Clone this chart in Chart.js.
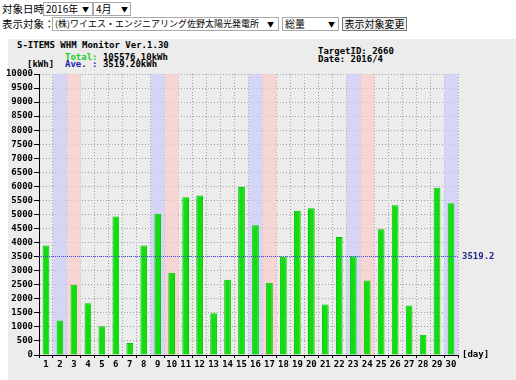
<!DOCTYPE html>
<html>
<head>
<meta charset="utf-8">
<script src="https://cdn.jsdelivr.net/npm/chart.js@4"></script>
<style>
  body { margin: 0; width: 516px; height: 380px; background: #fff; overflow: hidden; position: relative;
         font-family: "Noto Sans CJK JP", sans-serif; font-size: 10.5px; }
  .lbl { position: absolute; line-height: 13px; white-space: nowrap; }
  select, button { position: absolute; font-family: "Noto Sans CJK JP", sans-serif; font-size: 10px;
         height: 14px; padding: 0 0 0 2px; border: 1px solid #a9a9a9; background: #fff; box-sizing: border-box;
         line-height: 12px; color: #000; appearance: none; -webkit-appearance: none; border-radius: 0; }
  button { background: #efefef; border: 1px solid #777; padding: 0 1px; white-space: nowrap; }
  .arrow { position: absolute; font-size: 7px; line-height: 14px; pointer-events: none; }
  #panel { position: absolute; left: 8px; top: 39px; right: 0; bottom: 0; background: #ececec; }
  .mono { position: absolute; font: bold 9px "DejaVu Sans Mono", monospace; line-height: 9px; white-space: pre; color: #000; }
  #chart-wrap { position: absolute; left: 0; top: 39px; width: 516px; height: 341px; }
</style>
</head>
<body>
<div class="lbl" style="left:2px;top:2px">対象日時</div>
<select style="left:43px;top:2px;width:50px"><option>2016年</option></select>
<span class="arrow" style="left:82px;top:2px">▼</span>
<select style="left:93px;top:2px;width:38px"><option>4月</option></select>
<span class="arrow" style="left:121px;top:2px">▼</span>
<div class="lbl" style="left:2px;top:17px">表示対象：</div>
<select style="left:52px;top:17px;width:227px;font-size:9px"><option>(株)ワイエス・エンジニアリング佐野太陽光発電所</option></select>
<span class="arrow" style="left:267px;top:17px">▼</span>
<select style="left:282px;top:17px;width:57px"><option>総量</option></select>
<span class="arrow" style="left:328px;top:17px">▼</span>
<button style="left:342px;top:17px;width:65px">表示対象変更</button>

<div id="panel"></div>
<div class="mono" style="left:17px;top:41px">S-ITEMS WHM Monitor Ver.1.30</div>
<div class="mono" style="left:65px;top:53px"><span style="color:#22cc22">Total:</span> 105576.10kWh</div>
<div class="mono" style="left:27px;top:60px">[kWh]</div>
<div class="mono" style="left:65px;top:60px"><span style="color:#2222aa">Ave. :</span> 3519.20kWh</div>
<div class="mono" style="left:318px;top:47px">TargetID: 2660</div>
<div class="mono" style="left:318px;top:55px">Date: 2016/4</div>

<div id="chart-wrap"><canvas id="wh-chart" width="516" height="341"></canvas></div>

<script>
// Chart data
const days = ["1","2","3","4","5","6","7","8","9","10","11","12","13","14","15",
              "16","17","18","19","20","21","22","23","24","25","26","27","28","29","30"];
const dailyKwh = [3900, 1230, 2500, 1845, 1020, 4925, 430, 3900, 5030, 2925,
                  5615, 5675, 1490, 2680, 5975, 4615, 2570, 3500, 5130, 5225,
                  1800, 4200, 3510, 2655, 4475, 5330, 1760, 725, 5950, 5400];
const saturdays = ["2", "9", "16", "23", "30"];
const sundays = ["3", "10", "17", "24"];
const averageKwh = 3519.2;
const yMax = 10000;
const yStep = 500;

const monoFont = { family: "DejaVu Sans Mono", size: 9, weight: "bold" };

// Weekend bands + average line
const weekendPlugin = {
  id: "weekend",
  beforeDatasetsDraw(chart) {
    const { ctx, chartArea, scales } = chart;
    const x = scales.x;
    const half = (chartArea.right - chartArea.left) / days.length / 2;
    ctx.save();
    const band = (day, color) => {
      const cx = x.getPixelForValue(days.indexOf(day));
      ctx.fillStyle = color;
      ctx.fillRect(cx - half, chartArea.top, half * 2, chartArea.bottom - chartArea.top);
    };
    saturdays.forEach(d => band(d, "rgba(205,205,250,0.75)"));
    sundays.forEach(d => band(d, "rgba(250,205,205,0.75)"));
    ctx.restore();
  },
  afterDatasetsDraw(chart) {
    const { ctx, chartArea, scales } = chart;
    const y = Math.round(scales.y.getPixelForValue(averageKwh)) + 0.5;
    ctx.save();
    ctx.strokeStyle = "#4a4ae6";
    ctx.lineWidth = 1;
    ctx.setLineDash([1, 1]);
    ctx.beginPath();
    ctx.moveTo(chartArea.left, y);
    ctx.lineTo(chartArea.right, y);
    ctx.stroke();
    ctx.setLineDash([]);
    ctx.font = "bold 9px 'DejaVu Sans Mono'";
    ctx.textBaseline = "middle";
    ctx.fillStyle = "#222288";
    ctx.fillText(averageKwh.toFixed(1), chartArea.right + 4, y);
    ctx.fillStyle = "#000";
    ctx.fillText("[day]", chartArea.right + 4, chartArea.bottom);
    ctx.restore();
  }
};

const ctx = document.getElementById("wh-chart").getContext("2d");
new Chart(ctx, {
  type: "bar",
  data: {
    labels: days,
    datasets: [{
      data: dailyKwh,
      backgroundColor: "#11dd11",
      borderColor: "#00c800",
      borderWidth: 1,
      barPercentage: 0.48,
      categoryPercentage: 1
    }]
  },
  options: {
    responsive: false,
    animation: false,
    events: [],
    layout: { padding: { top: 35, right: 58, left: 0, bottom: 0 } },
    plugins: { legend: { display: false }, tooltip: { enabled: false } },
    scales: {
      x: {
        offset: true,
        afterFit(scale) { scale.height = 25; },
        grid: { offset: true, color: "#a0a0a0", tickColor: "#000", tickLength: 3, lineWidth: 1 },
        border: { display: true, color: "#000", dash: [1, 2] },
        ticks: { color: "#000", font: monoFont, padding: 1, maxRotation: 0, autoSkip: false }
      },
      y: {
        min: 0,
        max: yMax,
        afterFit(scale) { scale.width = 39; },
        grid: { color: "#a0a0a0", tickColor: "#000", tickLength: 5 },
        border: { display: true, color: "#000", dash: [1, 2] },
        ticks: { stepSize: yStep, color: "#000", font: monoFont, padding: 1,
                 callback: v => String(v) }
      }
    }
  },
  plugins: [weekendPlugin]
});
</script>
</body>
</html>
